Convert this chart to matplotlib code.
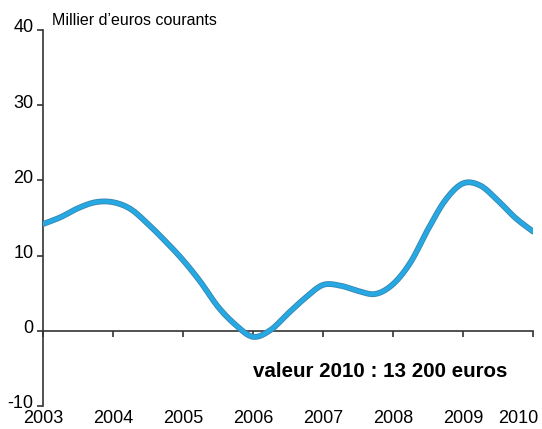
import numpy as np
import matplotlib
matplotlib.use("Agg")
import matplotlib.pyplot as plt
import matplotlib.transforms as mtransforms

plt.rcParams['font.family'] = ['Liberation Sans', 'DejaVu Sans']

# quarterly values, thousand euros
years = np.arange(2003.0, 2010.01, 0.25)
values = [14.2, 15.1, 16.3, 17.1, 17.1, 16.2, 14.2, 11.9, 9.4,
          6.5, 3.2, 0.8, -0.8, 0.1, 2.3, 4.4, 6.1, 6.0, 5.3,
          4.9, 6.2, 9.1, 13.5, 17.4, 19.6, 19.3, 17.3, 15.0, 13.2]
year_labels = ['2003', '2004', '2005', '2006', '2007', '2008', '2009', '2010']
y_ticks = [-10, 0, 10, 20, 30, 40]


def smooth(x, y, n=20):
    """Catmull-Rom curve through the points (like Excel's smoothed line)."""
    x = np.asarray(x, float)
    y = np.asarray(y, float)
    px = np.concatenate([[2 * x[0] - x[1]], x, [2 * x[-1] - x[-2]]])
    py = np.concatenate([[2 * y[0] - y[1]], y, [2 * y[-1] - y[-2]]])
    t = np.linspace(0, 1, n, endpoint=False)
    xs, ys = [], []
    for i in range(1, len(px) - 2):
        for p, out in ((px, xs), (py, ys)):
            p0, p1, p2, p3 = p[i - 1], p[i], p[i + 1], p[i + 2]
            out.extend(0.5 * (2 * p1 + (-p0 + p2) * t
                              + (2 * p0 - 5 * p1 + 4 * p2 - p3) * t ** 2
                              + (-p0 + 3 * p1 - 3 * p2 + p3) * t ** 3))
    xs.append(x[-1])
    ys.append(y[-1])
    return np.array(xs), np.array(ys)


fig = plt.figure(figsize=(5.42, 4.29), dpi=100)
ax = fig.add_axes([43 / 542, 1 - 406 / 429, 490 / 542, 376 / 429])

sx, sy = smooth(years, values)
ax.plot(sx, sy, color='#3a86b0', lw=4.2, solid_capstyle='round', zorder=3)
ax.plot(sx, sy, color='#26a8e2', lw=3.0, solid_capstyle='round', zorder=4)

ax.set_xlim(2003, 2010)
ax.set_ylim(-10, 40)

for s in ['top', 'right']:
    ax.spines[s].set_visible(False)
ax.spines['bottom'].set_position(('data', 0))
ax.spines['left'].set_color('#333333')
ax.spines['bottom'].set_color('#333333')
ax.spines['left'].set_linewidth(1.2)
ax.spines['bottom'].set_linewidth(1.2)

ax.set_yticks(y_ticks)
ax.set_yticklabels([str(v) for v in y_ticks], fontsize=13)
ax.tick_params(axis='y', direction='out', length=4, width=1.2, color='#333333', pad=3)
# the y labels sit a little above their ticks in the original
shift = mtransforms.ScaledTranslation(0, 3 / 72, fig.dpi_scale_trans)
for lab in ax.get_yticklabels():
    lab.set_transform(lab.get_transform() + shift)

xt = [int(l) for l in year_labels]
ax.set_xticks(xt)
ax.set_xticklabels([])
ax.tick_params(axis='x', direction='out', length=4, width=1.2, color='#333333')
for x, lab in zip(xt, year_labels):
    if lab == '2010':
        ax.text(x + 0.07, -10.5, lab, ha='right', va='top', fontsize=13)
    else:
        ax.text(x, -10.5, lab, ha='center', va='top', fontsize=13)

ax.text(2003.13, 40.3, "Millier d\u2019euros courants", fontsize=11.5,
        ha='left', va='bottom')
ax.text(2007.81, -5.4, "valeur 2010 : 13 200 euros", fontsize=14.8,
        fontweight='bold', ha='center', va='center')

fig.savefig('out.png', dpi=100)
